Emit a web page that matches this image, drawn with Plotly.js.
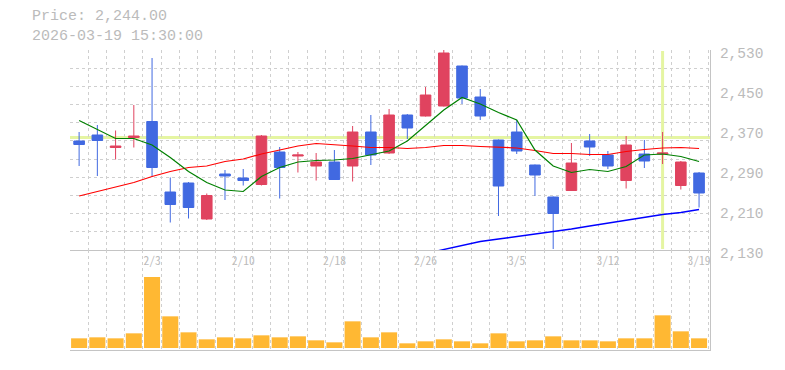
<!DOCTYPE html>
<html><head><meta charset="utf-8">
<script src="https://cdn.plot.ly/plotly-3.0.1.min.js"></script>
<style>html,body{margin:0;padding:0;background:#fff;}#chart{width:785px;height:370px;}</style>
</head><body><div id="chart"></div>
<script>
// ---- data ----
const dates = ['1/28','1/29','1/30','2/2','2/3','2/4','2/5','2/6','2/9','2/10','2/12','2/13','2/16','2/17','2/18','2/19','2/20','2/24','2/25','2/26','2/27','3/2','3/3','3/4','3/5','3/6','3/9','3/10','3/11','3/12','3/13','3/16','3/17','3/18','3/19'];
const labelDates = ['2/3','2/10','2/18','2/26','3/5','3/12','3/19'];
const open  = [2348,2360,2335,2355,2387,2246,2264,2192,2282,2274,2261,2326,2318,2298,2306,2298,2366,2324,2400,2398,2418,2498,2436,2350,2366,2300,2236,2249,2348,2320,2269,2322,2322,2259,2284];
const high  = [2366,2380,2369,2420,2514,2275,2266,2243,2290,2292,2360,2336,2326,2324,2330,2378,2400,2412,2402,2456,2534,2499,2452,2351,2390,2301,2237,2344,2362,2328,2358,2350,2366,2308,2286];
const low   = [2298,2278,2311,2335,2277,2185,2193,2190,2230,2259,2259,2233,2285,2269,2271,2267,2300,2322,2352,2397,2417,2422,2390,2198,2322,2238,2132,2248,2318,2292,2253,2294,2302,2251,2215];
const close = [2341,2349,2338,2358,2295,2221,2215,2239,2278,2269,2358,2295,2320,2306,2271,2366,2320,2400,2374,2440,2524,2434,2398,2258,2328,2280,2203,2304,2336,2298,2340,2308,2324,2306,2244];
const ma5   = [2389,2371,2353,2353,2340,2315,2287,2265,2250,2247,2277,2295,2306,2309,2310,2313,2320,2328,2348,2380,2410,2435,2422,2405,2390,2330,2298,2285,2291,2287,2297,2320,2322,2317,2307];
const ma25  = [2238,2247,2255,2265,2277,2287,2295,2298,2307,2312,2322,2330,2338,2343,2341,2338,2335,2335,2333,2335,2339,2339,2337,2336,2334,2329,2323,2323,2321,2321,2327,2331,2334,2335,2333];
const ma75  = [null,null,null,null,null,null,null,null,null,null,null,null,null,null,null,null,null,null,null,2123,2131,2139,2147,2152,2157,2161,2166,2172,2178,2184,2190,2196,2201,2205,2211];
const volume = [29000,32000,29000,44000,213000,95000,47000,26000,32000,29000,38000,32000,35000,23000,17000,80000,32000,47000,14000,20000,26000,20000,14000,44000,20000,23000,35000,23000,23000,20000,29000,29000,98000,50000,29000];
const priceTicks = [2130,2210,2290,2370,2450,2530];
const lastTimestamp = '2026-03-19 15:30:00';
const crossDate = '3/17';
const crossPrice = 2355;

// ---- build ----
const xi = dates.map((d, i) => i);
const gridColor = '#cfcfcf';
const gridMinorX = {tick0: -0.5, dtick: 1, showgrid: true, gridcolor: gridColor, griddash: '3px,3px', gridwidth: 1, ticks: ''};
const textGray = '#bbbbbb';
const lineGray = '#c4c4c4';

const traces = [
  {type: 'candlestick', x: xi, open: open, high: high, low: low, close: close, xaxis: 'x', yaxis: 'y',
   increasing: {line: {color: '#e0435f', width: 1}, fillcolor: '#e0435f'},
   decreasing: {line: {color: '#4169e1', width: 1}, fillcolor: '#4169e1'},
   whiskerwidth: 0, hoverinfo: 'skip'},
  {type: 'scatter', mode: 'lines', x: xi, y: ma25, line: {color: '#ff0000', width: 1.2}, xaxis: 'x', yaxis: 'y', hoverinfo: 'skip'},
  {type: 'scatter', mode: 'lines', x: xi, y: ma5, line: {color: '#008000', width: 1.2}, xaxis: 'x', yaxis: 'y', hoverinfo: 'skip'},
  {type: 'scatter', mode: 'lines', x: xi, y: ma75, line: {color: '#0000ff', width: 1.4}, xaxis: 'x', yaxis: 'y', hoverinfo: 'skip', connectgaps: false},
  {type: 'bar', x: xi, y: volume, marker: {color: '#ffb833', line: {width: 0}}, xaxis: 'x2', yaxis: 'y2', hoverinfo: 'skip'}
];

const fmt = v => v.toLocaleString('en-US');
const layout = {
  width: 785, height: 370,
  margin: {l: 70, r: 75, t: 50, b: 20},
  paper_bgcolor: '#ffffff', plot_bgcolor: '#ffffff',
  showlegend: false,
  boxgap: 0.17,
  bargap: 0.12,
  xaxis: {domain: [0, 1], anchor: 'y', range: [-0.5, 34.6], tickmode: 'array',
    tickvals: labelDates.map(d => dates.indexOf(d)), ticktext: labelDates,
    showgrid: false, zeroline: false, showline: true, linecolor: lineGray, linewidth: 1, ticks: '',
    tickfont: {family: 'Noto Sans Mono CJK JP, DejaVu Sans Mono, monospace', size: 11.5, color: textGray},
    minor: gridMinorX, rangeslider: {visible: false}, fixedrange: true},
  xaxis2: {domain: [0, 1], anchor: 'y2', matches: 'x', range: [-0.5, 34.6], showticklabels: false,
    showgrid: false, zeroline: false, showline: true, linecolor: lineGray, linewidth: 1, ticks: '',
    minor: gridMinorX, fixedrange: true},
  yaxis: {domain: [1/3, 1], anchor: 'x', side: 'right', range: [priceTicks[0], priceTicks[priceTicks.length-1]],
    tickmode: 'array', tickvals: priceTicks, ticktext: priceTicks.map(fmt),
    showgrid: false, zeroline: false, showline: true, linecolor: lineGray, linewidth: 1, ticks: '',
    ticklabelstandoff: 6, ticklabelshift: 3,
    tickfont: {family: 'Liberation Mono, DejaVu Sans Mono, monospace', size: 14.5, color: textGray},
    minor: {tick0: priceTicks[0], dtick: (priceTicks[priceTicks.length-1] - priceTicks[0]) / 11, showgrid: true, gridcolor: gridColor, griddash: '3px,3px', gridwidth: 1, ticks: ''},
    fixedrange: true},
  yaxis2: {domain: [0, 1/3], anchor: 'x2', side: 'right', range: [-6000, 294000], showticklabels: false,
    showgrid: false, zeroline: false, showline: true, linecolor: lineGray, linewidth: 1, ticks: '', fixedrange: true},
  shapes: [
    {type: 'line', layer: 'below', xref: 'x domain', yref: 'y', x0: 0, x1: 1, y0: crossPrice, y1: crossPrice, line: {color: '#e5f5a2', width: 3}},
    {type: 'line', layer: 'below', xref: 'x', yref: 'y domain', x0: dates.indexOf(crossDate), x1: dates.indexOf(crossDate), y0: 0.005, y1: 0.995, line: {color: '#e5f5a2', width: 3}}
  ],
  annotations: [
    {xref: 'paper', yref: 'paper', x: -0.0625, y: 1.079, xanchor: 'left', yanchor: 'middle', align: 'left', showarrow: false,
     text: 'Price: ' + close[close.length-1].toLocaleString('en-US', {minimumFractionDigits: 2, maximumFractionDigits: 2}) + '<br>' + lastTimestamp,
     font: {family: 'Liberation Mono, DejaVu Sans Mono, monospace', size: 15, color: textGray}}
  ]
};

Plotly.newPlot('chart', traces, layout, {staticPlot: true, displayModeBar: false});
</script>
</body></html>
